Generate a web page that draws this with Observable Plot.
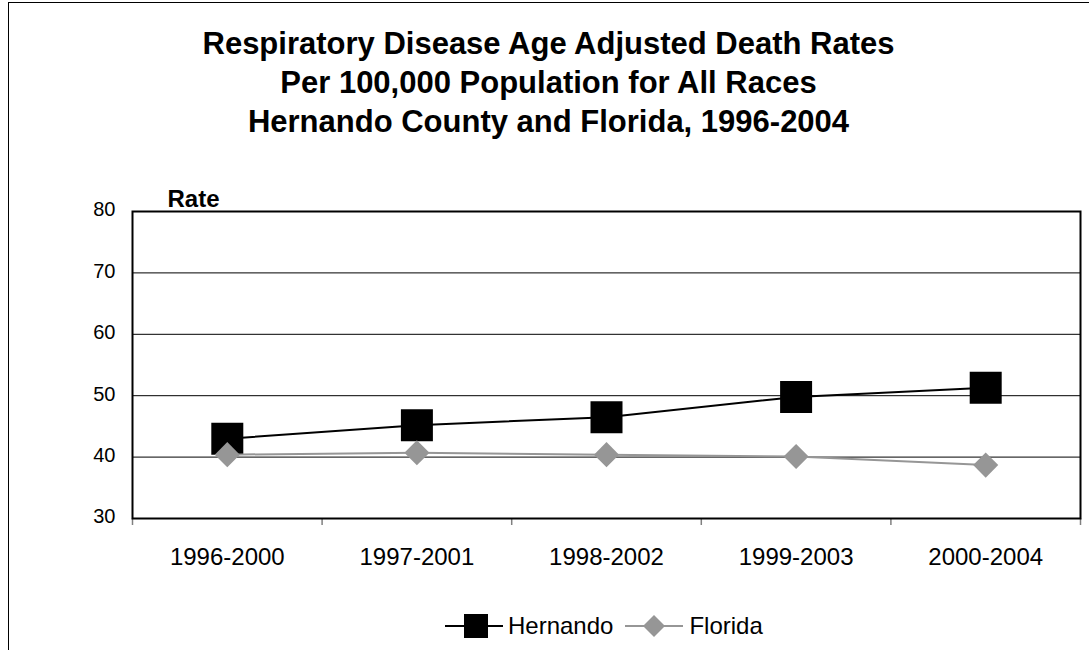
<!DOCTYPE html>
<html>
<head>
<meta charset="utf-8">
<script src="https://cdn.jsdelivr.net/npm/d3@7"></script>
<script src="https://cdn.jsdelivr.net/npm/@observablehq/plot@0.6"></script>
<style>
  html, body { margin: 0; padding: 0; background: #fff; overflow: hidden; width: 1089px; height: 650px; }
  body { font-family: "Liberation Sans", Arial, sans-serif; color: #000; position: relative; }
  #border { position: absolute; left: 8px; top: 2px; width: 1200px; height: 800px; border: 1px solid #000; box-sizing: border-box; }
  #title { position: absolute; left: 8px; width: 1081px; top: 24px; text-align: center; font-weight: bold; font-size: 31px; line-height: 39px; }
  #chart { position: absolute; left: 0; top: 141px; }
  #legend { position: absolute; left: 445px; top: 612px; height: 28px; display: flex; align-items: center; font-size: 24px; }
  #legend svg { display: block; }
</style>
</head>
<body>
<div id="border"></div>
<div id="title">Respiratory Disease Age Adjusted Death Rates<br>Per 100,000 Population for All Races<br>Hernando County and Florida, 1996-2004</div>
<div id="chart"></div>
<div id="legend"></div>
<script>
const periods = ["1996-2000", "1997-2001", "1998-2002", "1999-2003", "2000-2004"];
const hernando = [43.0, 45.2, 46.5, 49.8, 51.3];
const florida = [40.4, 40.7, 40.4, 40.1, 38.7];
const yTicks = [30, 40, 50, 60, 70, 80];
const seriesNames = ["Hernando", "Florida"];

const rows = periods.map((p, i) => ({i, period: p, hernando: hernando[i], florida: florida[i]}));

const diamond = {
  draw(ctx, size) {
    const r = Math.sqrt(size) * 0.62625;
    ctx.moveTo(0, -r); ctx.lineTo(r, 0); ctx.lineTo(0, r); ctx.lineTo(-r, 0); ctx.closePath();
  }
};

const gray = "#969696";
const n = periods.length;

const chart = Plot.plot({
  width: 1089,
  height: 437,
  marginLeft: 132,
  marginRight: 9,
  marginTop: 70,
  marginBottom: 60,
  style: {fontFamily: "'Liberation Sans', Arial, sans-serif", fontSize: "20px", color: "#000", background: "transparent"},
  x: {type: "linear", domain: [-0.5, n - 0.5]},
  y: {domain: [30, 80]},
  marks: [
    Plot.gridY(yTicks.slice(1, -1), {stroke: "#000", strokeOpacity: 1, strokeWidth: 1}),
    Plot.axisY(yTicks, {tickSize: 0, tickPadding: 17, fontSize: 20, dy: -1.5, label: null}),
    Plot.axisX(d3.range(-0.5, n, 1), {tickSize: 7, stroke: "#808080", strokeWidth: 1.5, tickFormat: () => "", label: null}),
    Plot.axisX(d3.range(n), {tickSize: 0, tickPadding: 29, fontSize: 24, tickFormat: i => periods[i], label: null}),
    Plot.frame({stroke: "#000", strokeWidth: 2}),
    Plot.line(rows, {x: "i", y: "hernando", stroke: "#000", strokeWidth: 2}),
    Plot.dot(rows, {x: "i", y: "hernando", symbol: "square", r: 18.05, fill: "#000", stroke: "none"}),
    Plot.line(rows, {x: "i", y: "florida", stroke: gray, strokeWidth: 2}),
    Plot.dot(rows, {x: "i", y: "florida", symbol: diamond, r: 11.3, fill: gray, stroke: "none"}),
    Plot.text(["Rate"], {frameAnchor: "top-left", dx: 35, dy: -4.3, textAnchor: "start", lineAnchor: "bottom", fontWeight: "bold", fontSize: 24})
  ]
});
document.getElementById("chart").appendChild(chart);

// Legend
const legend = document.getElementById("legend");
function swatch(kind) {
  const ns = "http://www.w3.org/2000/svg";
  const svg = document.createElementNS(ns, "svg");
  svg.setAttribute("width", 58); svg.setAttribute("height", 28);
  const line = document.createElementNS(ns, "line");
  line.setAttribute("x1", 0); line.setAttribute("x2", 58);
  line.setAttribute("y1", 14); line.setAttribute("y2", 14);
  line.setAttribute("stroke", kind === 0 ? "#000" : gray);
  line.setAttribute("stroke-width", 2);
  svg.appendChild(line);
  if (kind === 0) {
    const r = document.createElementNS(ns, "rect");
    r.setAttribute("x", 19); r.setAttribute("y", 2); r.setAttribute("width", 24); r.setAttribute("height", 24);
    r.setAttribute("fill", "#000");
    svg.appendChild(r);
  } else {
    const p = document.createElementNS(ns, "path");
    p.setAttribute("d", "M29,3L40,14L29,25L18,14Z");
    p.setAttribute("fill", gray);
    svg.appendChild(p);
  }
  return svg;
}
seriesNames.forEach((name, k) => {
  legend.appendChild(swatch(k));
  const t = document.createElement("span");
  t.textContent = name;
  t.style.marginLeft = k === 0 ? "5px" : "6px";
  t.style.marginRight = k === 0 ? "12px" : "0";
  legend.appendChild(t);
});
</script>
</body>
</html>
